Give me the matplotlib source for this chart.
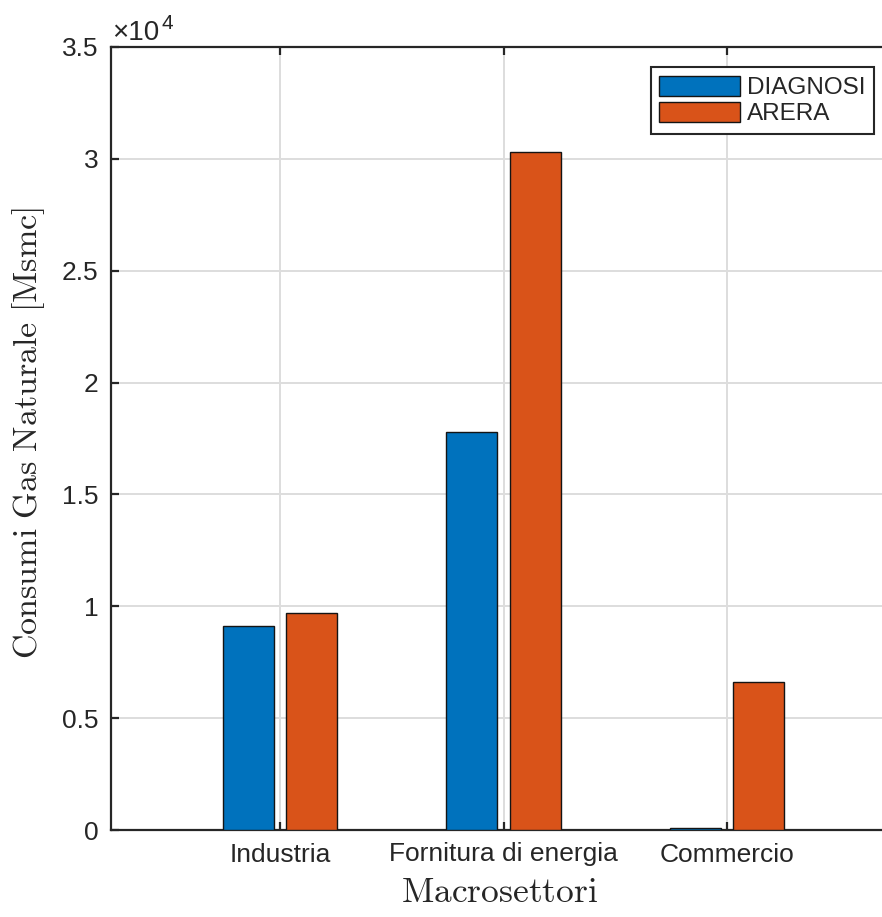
import matplotlib
matplotlib.use("Agg")
import matplotlib.pyplot as plt
import numpy as np

# ---- data ----
categories = ["Industria", "Fornitura di energia", "Commercio"]
diagnosi = [9100, 17800, 80]
arera = [9700, 30300, 6600]
series_names = ["DIAGNOSI", "ARERA"]
yticks = [0, 5000, 10000, 15000, 20000, 25000, 30000, 35000]
ytick_labels = ["0", "0.5", "1", "1.5", "2", "2.5", "3", "3.5"]

plt.rcParams['font.family'] = ['Liberation Sans', 'DejaVu Sans']
plt.rcParams['mathtext.fontset'] = 'cm'

W, H = 882, 917
fig = plt.figure(figsize=(W / 100, H / 100), dpi=100)
ax_l, ax_r, ax_t, ax_b = 111, 896, 47, 830
ax = fig.add_axes([ax_l / W, 1 - ax_b / H, (ax_r - ax_l) / W, (ax_b - ax_t) / H])

blue = "#0072BD"
orange = "#D95319"
x = np.arange(1, len(categories) + 1)
step = 0.2857
bw = 0.2286
ax.bar(x - step / 2, diagnosi, width=bw, color=blue, edgecolor="#141414", linewidth=1.0,
       label=series_names[0], zorder=3)
ax.bar(x + step / 2, arera, width=bw, color=orange, edgecolor="#141414", linewidth=1.0,
       label=series_names[1], zorder=3)

ax.set_xlim(0.244, 3.756)
ax.set_ylim(0, 35000)
ax.set_xticks(x)
ax.set_xticklabels(categories, fontsize=19, color="#262626")
ax.set_yticks(yticks)
ax.set_yticklabels(ytick_labels, fontsize=19, color="#262626")

ax.set_axisbelow(True)
ax.grid(True, color="#dddddd", linewidth=1.4)
for s in ax.spines.values():
    s.set_color("#262626")
    s.set_linewidth(1.6)
ax.tick_params(direction="in", length=5.5, width=1.6, color="#262626",
               top=True, right=True, pad=9)

# exponent label
fig.text(112 / W, 1 - 40 / H, "×10", fontsize=20, color="#262626", ha="left", va="baseline")
fig.text(162 / W, 1 - 29 / H, "4", fontsize=15, color="#262626", ha="left", va="baseline")

# axis labels (LaTeX-like serif)
fig.text(29 / W, 1 - 433 / H, r"$\mathrm{Consumi\ Gas\ Naturale\ [Msmc]}$", fontsize=24.5,
         rotation=90, ha="center", va="center", color="#262626")
fig.text(500 / W, 1 - 892 / H, r"$\mathrm{Macrosettori}$", fontsize=25.5,
         ha="center", va="center", color="#262626")

leg = ax.legend(loc="upper right", bbox_to_anchor=((874 - ax_l) / (ax_r - ax_l), 1 - (67 - ax_t) / (ax_b - ax_t)),
                borderaxespad=0, fontsize=17.5, handlelength=3.3, handleheight=0.9,
                handletextpad=0.3, labelspacing=0.12, borderpad=0.35, fancybox=False,
                framealpha=1, edgecolor="#262626")
leg.get_frame().set_linewidth(1.5)
for t in leg.get_texts():
    t.set_color("#262626")

fig.savefig("out.png", dpi=100)
